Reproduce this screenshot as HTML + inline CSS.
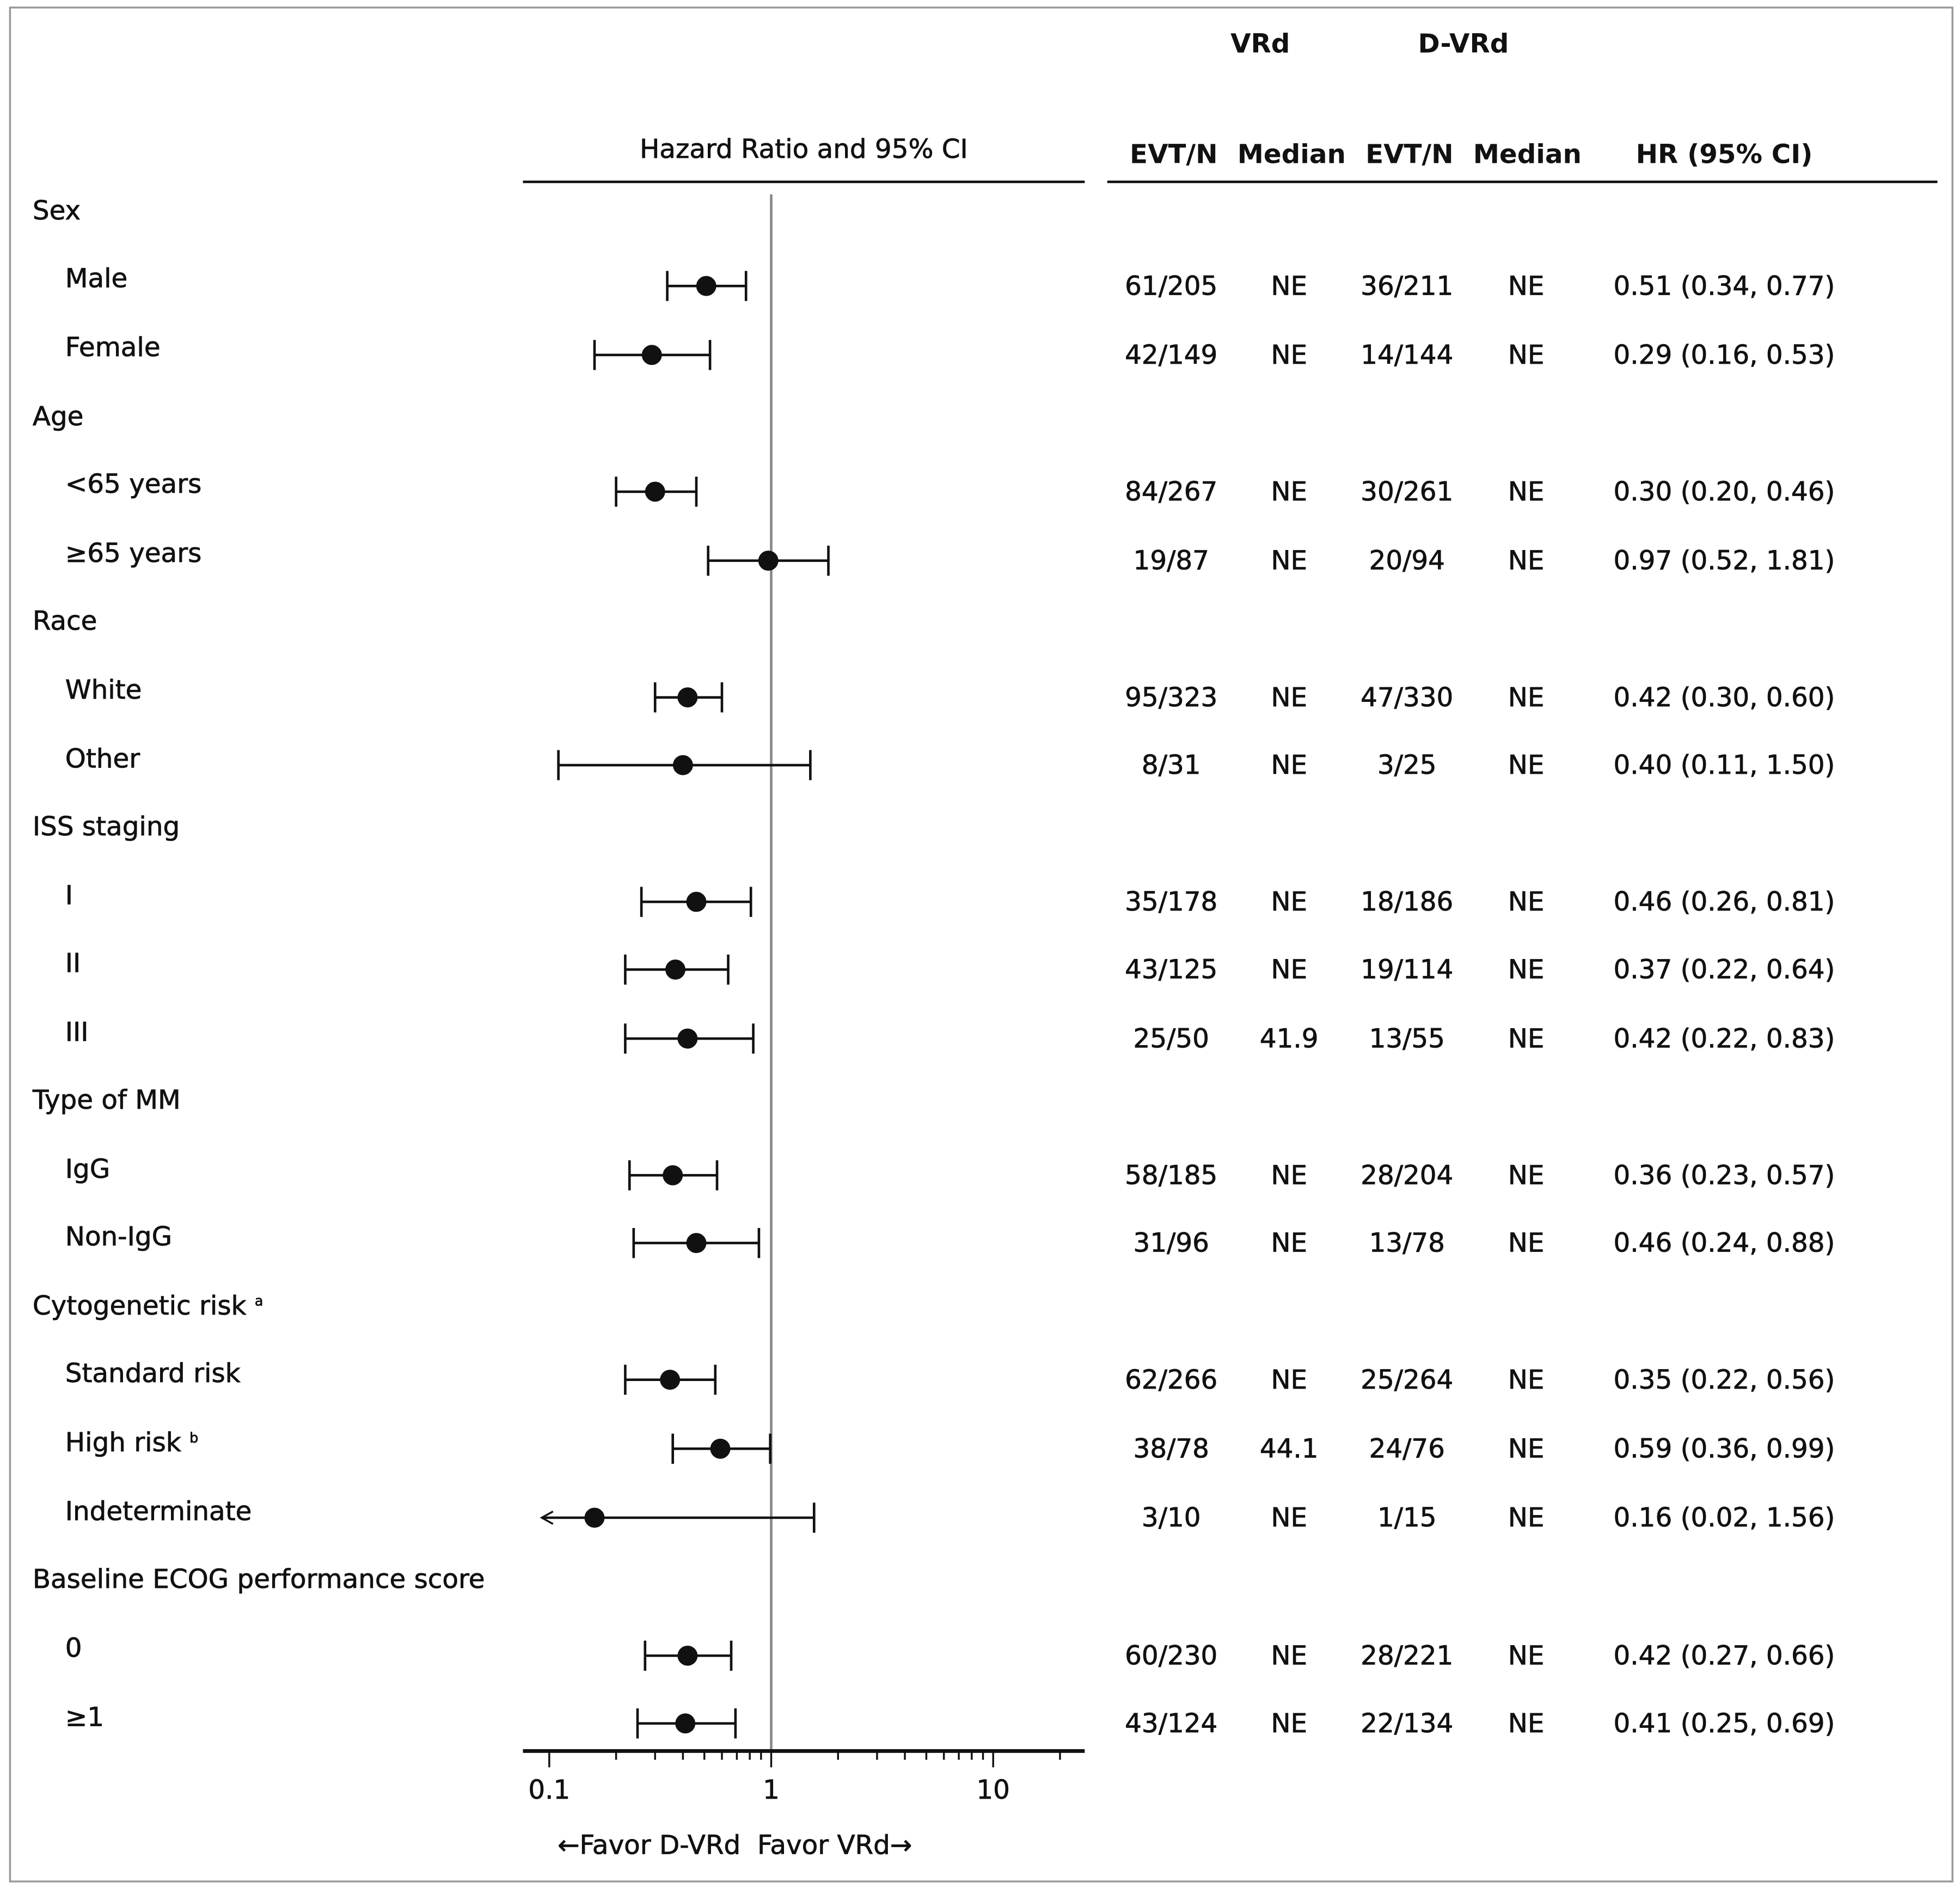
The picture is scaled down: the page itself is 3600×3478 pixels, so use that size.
<!DOCTYPE html>
<html><head><meta charset="utf-8"><style>
html,body{margin:0;padding:0;background:#fff;}
svg{display:block;}
text{font-family:"DejaVu Sans","Liberation Sans",sans-serif;font-size:21px;fill:#111;stroke:#111;stroke-width:0.35px;}
.b{font-weight:bold;stroke-width:0;}
</style></head><body>
<svg width="3600" height="3478" viewBox="0 0 1563 1510" preserveAspectRatio="none" xmlns="http://www.w3.org/2000/svg">
<rect x="8" y="6" width="1549" height="1494" fill="#fff" stroke="#999" stroke-width="1.5"/>
<text class="b" x="1005" y="42" text-anchor="middle">VRd</text>
<text class="b" x="1167" y="42" text-anchor="middle">D-VRd</text>
<text x="641" y="126" text-anchor="middle">Hazard Ratio and 95% CI</text>
<g text-anchor="middle">
<text class="b" x="936" y="130">EVT/N</text><text class="b" x="1030" y="130">Median</text><text class="b" x="1124" y="130">EVT/N</text><text class="b" x="1218" y="130">Median</text><text class="b" x="1375" y="130">HR (95% CI)</text>
</g>
<line x1="417" y1="145" x2="865" y2="145" stroke="#111" stroke-width="2"/>
<line x1="883" y1="145" x2="1545" y2="145" stroke="#111" stroke-width="2"/>
<line x1="615" y1="155" x2="615" y2="1396" stroke="#888" stroke-width="2"/>
<line x1="417" y1="1396" x2="865" y2="1396" stroke="#111" stroke-width="3"/>
<g stroke="#111" stroke-width="1.5">
<line x1="438" y1="1396" x2="438" y2="1409"/><line x1="615" y1="1396" x2="615" y2="1409"/><line x1="792" y1="1396" x2="792" y2="1409"/>
<line x1="491.3" y1="1396" x2="491.3" y2="1403"/><line x1="522.4" y1="1396" x2="522.4" y2="1403"/><line x1="544.6" y1="1396" x2="544.6" y2="1403"/><line x1="561.7" y1="1396" x2="561.7" y2="1403"/><line x1="575.7" y1="1396" x2="575.7" y2="1403"/><line x1="587.6" y1="1396" x2="587.6" y2="1403"/><line x1="597.9" y1="1396" x2="597.9" y2="1403"/><line x1="606.9" y1="1396" x2="606.9" y2="1403"/>
<line x1="668.3" y1="1396" x2="668.3" y2="1403"/><line x1="699.4" y1="1396" x2="699.4" y2="1403"/><line x1="721.6" y1="1396" x2="721.6" y2="1403"/><line x1="738.7" y1="1396" x2="738.7" y2="1403"/><line x1="752.7" y1="1396" x2="752.7" y2="1403"/><line x1="764.6" y1="1396" x2="764.6" y2="1403"/><line x1="774.9" y1="1396" x2="774.9" y2="1403"/><line x1="783.9" y1="1396" x2="783.9" y2="1403"/><line x1="845.3" y1="1396" x2="845.3" y2="1403"/>
</g>
<text x="438" y="1434" text-anchor="middle">0.1</text>
<text x="615" y="1434" text-anchor="middle">1</text>
<text x="792" y="1434" text-anchor="middle">10</text>
<text x="586" y="1478" text-anchor="middle" xml:space="preserve">←Favor D-VRd  Favor VRd→</text>
<g>
<text x="26" y="175">Sex</text>
<text x="52" y="229">Male</text>
<text x="52" y="284">Female</text>
<text x="26" y="339">Age</text>
<text x="52" y="393">&lt;65 years</text>
<text x="52" y="448">≥65 years</text>
<text x="26" y="502">Race</text>
<text x="52" y="557">White</text>
<text x="52" y="612">Other</text>
<text x="26" y="666">ISS staging</text>
<text x="52" y="721">I</text>
<text x="52" y="775">II</text>
<text x="52" y="830">III</text>
<text x="26" y="884">Type of MM</text>
<text x="52" y="939">IgG</text>
<text x="52" y="993">Non-IgG</text>
<text x="26" y="1048">Cytogenetic risk <tspan font-size="11" dy="-7">a</tspan></text>
<text x="52" y="1102">Standard risk</text>
<text x="52" y="1157">High risk <tspan font-size="11" dy="-7">b</tspan></text>
<text x="52" y="1212">Indeterminate</text>
<text x="26" y="1266">Baseline ECOG performance score</text>
<text x="52" y="1321">0</text>
<text x="52" y="1376">≥1</text>
</g>
<g stroke="#111" stroke-width="2" fill="#111">
<path d="M532.1 228H594.9M532.1 216V240M594.9 216V240"/><circle cx="563.2" cy="228" r="7"/>
<path d="M474.1 283H566.2M474.1 271V295M566.2 271V295"/><circle cx="519.8" cy="283" r="7"/>
<path d="M491.3 392H555.3M491.3 380V404M555.3 380V404"/><circle cx="522.4" cy="392" r="7"/>
<path d="M564.7 447H660.6M564.7 435V459M660.6 435V459"/><circle cx="612.7" cy="447" r="7"/>
<path d="M522.4 556H575.7M522.4 544V568M575.7 544V568"/><circle cx="548.3" cy="556" r="7"/>
<path d="M445.3 610H646.2M445.3 598V622M646.2 598V622"/><circle cx="544.6" cy="610" r="7"/>
<path d="M511.5 719H598.8M511.5 707V731M598.8 707V731"/><circle cx="555.3" cy="719" r="7"/>
<path d="M498.6 773H580.7M498.6 761V785M580.7 761V785"/><circle cx="538.6" cy="773" r="7"/>
<path d="M498.6 828H600.7M498.6 816V840M600.7 816V840"/><circle cx="548.3" cy="828" r="7"/>
<path d="M502 937H571.8M502 925V949M571.8 925V949"/><circle cx="536.5" cy="937" r="7"/>
<path d="M505.3 991H605.2M505.3 979V1003M605.2 979V1003"/><circle cx="555.3" cy="991" r="7"/>
<path d="M498.6 1100H570.4M498.6 1088V1112M570.4 1088V1112"/><circle cx="534.3" cy="1100" r="7"/>
<path d="M536.5 1155H614.2M536.5 1143V1167M614.2 1143V1167"/><circle cx="574.4" cy="1155" r="7"/>
<path d="M432 1210H649.2M649.2 1198V1222" /><path d="M441 1205L432 1210L441 1215" fill="none" stroke-width="1.5"/><circle cx="474.1" cy="1210" r="7"/>
<path d="M514.4 1320H583.1M514.4 1308V1332M583.1 1308V1332"/><circle cx="548.3" cy="1320" r="7"/>
<path d="M508.4 1374H586.5M508.4 1362V1386M586.5 1362V1386"/><circle cx="546.5" cy="1374" r="7"/>
</g>
<g text-anchor="middle">
<text x="934" y="235">61/205</text><text x="1028" y="235">NE</text><text x="1122" y="235">36/211</text><text x="1217" y="235">NE</text><text x="1375" y="235">0.51 (0.34, 0.77)</text>
<text x="934" y="290">42/149</text><text x="1028" y="290">NE</text><text x="1122" y="290">14/144</text><text x="1217" y="290">NE</text><text x="1375" y="290">0.29 (0.16, 0.53)</text>
<text x="934" y="399">84/267</text><text x="1028" y="399">NE</text><text x="1122" y="399">30/261</text><text x="1217" y="399">NE</text><text x="1375" y="399">0.30 (0.20, 0.46)</text>
<text x="934" y="454">19/87</text><text x="1028" y="454">NE</text><text x="1122" y="454">20/94</text><text x="1217" y="454">NE</text><text x="1375" y="454">0.97 (0.52, 1.81)</text>
<text x="934" y="563">95/323</text><text x="1028" y="563">NE</text><text x="1122" y="563">47/330</text><text x="1217" y="563">NE</text><text x="1375" y="563">0.42 (0.30, 0.60)</text>
<text x="934" y="617">8/31</text><text x="1028" y="617">NE</text><text x="1122" y="617">3/25</text><text x="1217" y="617">NE</text><text x="1375" y="617">0.40 (0.11, 1.50)</text>
<text x="934" y="726">35/178</text><text x="1028" y="726">NE</text><text x="1122" y="726">18/186</text><text x="1217" y="726">NE</text><text x="1375" y="726">0.46 (0.26, 0.81)</text>
<text x="934" y="780">43/125</text><text x="1028" y="780">NE</text><text x="1122" y="780">19/114</text><text x="1217" y="780">NE</text><text x="1375" y="780">0.37 (0.22, 0.64)</text>
<text x="934" y="835">25/50</text><text x="1028" y="835">41.9</text><text x="1122" y="835">13/55</text><text x="1217" y="835">NE</text><text x="1375" y="835">0.42 (0.22, 0.83)</text>
<text x="934" y="944">58/185</text><text x="1028" y="944">NE</text><text x="1122" y="944">28/204</text><text x="1217" y="944">NE</text><text x="1375" y="944">0.36 (0.23, 0.57)</text>
<text x="934" y="998">31/96</text><text x="1028" y="998">NE</text><text x="1122" y="998">13/78</text><text x="1217" y="998">NE</text><text x="1375" y="998">0.46 (0.24, 0.88)</text>
<text x="934" y="1107">62/266</text><text x="1028" y="1107">NE</text><text x="1122" y="1107">25/264</text><text x="1217" y="1107">NE</text><text x="1375" y="1107">0.35 (0.22, 0.56)</text>
<text x="934" y="1162">38/78</text><text x="1028" y="1162">44.1</text><text x="1122" y="1162">24/76</text><text x="1217" y="1162">NE</text><text x="1375" y="1162">0.59 (0.36, 0.99)</text>
<text x="934" y="1217">3/10</text><text x="1028" y="1217">NE</text><text x="1122" y="1217">1/15</text><text x="1217" y="1217">NE</text><text x="1375" y="1217">0.16 (0.02, 1.56)</text>
<text x="934" y="1327">60/230</text><text x="1028" y="1327">NE</text><text x="1122" y="1327">28/221</text><text x="1217" y="1327">NE</text><text x="1375" y="1327">0.42 (0.27, 0.66)</text>
<text x="934" y="1381">43/124</text><text x="1028" y="1381">NE</text><text x="1122" y="1381">22/134</text><text x="1217" y="1381">NE</text><text x="1375" y="1381">0.41 (0.25, 0.69)</text>
</g>
</svg>
</body></html>
